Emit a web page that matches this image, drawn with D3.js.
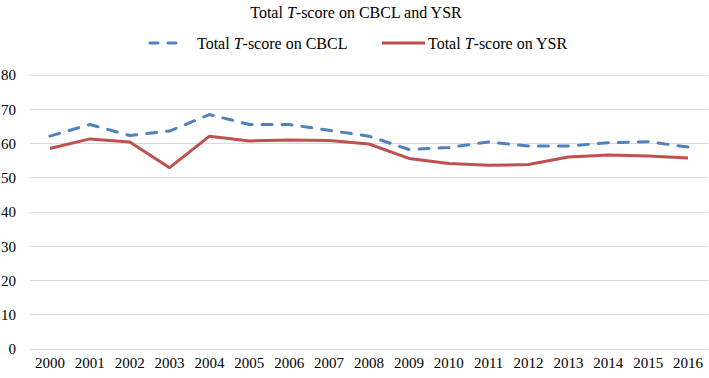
<!DOCTYPE html>
<html>
<head>
<meta charset="utf-8">
<script src="https://cdn.jsdelivr.net/npm/d3@7"></script>
<style>
  html, body { margin: 0; padding: 0; background: #fff; }
  svg { display: block; }
  svg text { font-family: "Liberation Serif", "Times New Roman", serif !important; fill: #000; }
</style>
</head>
<body>
<svg id="chart" width="709" height="378"></svg>
<script>
const years = ["2000","2001","2002","2003","2004","2005","2006","2007","2008","2009","2010","2011","2012","2013","2014","2015","2016"];
const cbcl = [62.0, 65.4, 62.2, 63.5, 68.3, 65.4, 65.4, 63.7, 62.0, 58.1, 58.7, 60.3, 59.1, 59.1, 60.1, 60.4, 58.8];
const ysr  = [58.4, 61.2, 60.3, 52.8, 62.0, 60.6, 60.9, 60.7, 59.7, 55.5, 54.0, 53.5, 53.7, 55.9, 56.5, 56.2, 55.6];
const yTicks = [0, 10, 20, 30, 40, 50, 60, 70, 80];
const seriesNames = ["Total T-score on CBCL", "Total T-score on YSR"];

const FONT = "'Liberation Serif', 'Times New Roman', serif";
const svg = d3.select("#chart");
const x = d3.scaleBand().domain(years).range([30, 708]).padding(0);
const y = d3.scaleLinear().domain([0, 80]).range([348.5, 74.5]);
const cx = d => x(d) + x.bandwidth() / 2;

// gridlines
svg.append("g").selectAll("line").data(yTicks).join("line")
  .attr("x1", 30).attr("x2", 708)
  .attr("y1", d => Math.round(y(d)) + 0.5).attr("y2", d => Math.round(y(d)) + 0.5)
  .attr("stroke", "#d9d9d9").attr("stroke-width", 1);

// y axis labels
const yAxis = d3.axisLeft(y).tickValues(yTicks).tickSize(0).tickPadding(0);
const gy = svg.append("g").attr("transform", "translate(16,0)").call(yAxis)
  .attr("font-family", FONT).attr("font-size", 15);
gy.select(".domain").remove();
gy.selectAll("text").style("font-family", FONT).style("font-size", "15px").attr("fill", "#000").attr("dy", "0.35em");

// x axis labels
const xAxis = d3.axisBottom(x).tickSize(0).tickPadding(0);
const gx = svg.append("g").attr("transform", "translate(0,363)").call(xAxis)
  .attr("font-family", FONT).attr("font-size", 15);
gx.select(".domain").remove();
gx.selectAll("text").style("font-family", FONT).style("font-size", "15px").attr("fill", "#000").attr("dy", "0.35em");

const line = d3.line().x((d, i) => cx(years[i])).y(d => y(d));

svg.append("path").datum(ysr).attr("d", line)
  .attr("fill", "none").attr("stroke", "#c0504d").attr("stroke-width", 3)
  .attr("stroke-linejoin", "round");

svg.append("path").datum(cbcl).attr("d", line)
  .attr("fill", "none").attr("stroke", "#4f81bd").attr("stroke-width", 3)
  .attr("stroke-dasharray", "10,10").attr("stroke-linecap", "round")
  .attr("stroke-linejoin", "round");

// title
const title = svg.append("text").attr("x", 356).attr("y", 12).attr("dy", "0.35em")
  .attr("text-anchor", "middle").style("font-size", "16px").style("font-family", FONT);
title.append("tspan").text("Total ");
title.append("tspan").attr("font-style", "italic").text("T");
title.append("tspan").text("-score on CBCL and YSR");

// legend
function legendText(xPos, label) {
  const t = svg.append("text").attr("x", xPos).attr("y", 43).attr("dy", "0.35em")
    .style("font-size", "16px").style("font-family", FONT);
  const parts = label.split("T-score");
  t.append("tspan").text(parts[0]);
  t.append("tspan").attr("font-style", "italic").text("T");
  t.append("tspan").text("-score" + parts[1]);
}
svg.append("line").attr("x1", 150).attr("x2", 185).attr("y1", 43).attr("y2", 43)
  .attr("stroke", "#4f81bd").attr("stroke-width", 3).attr("stroke-dasharray", "8,10").attr("stroke-linecap", "round");
legendText(197, seriesNames[0]);
svg.append("line").attr("x1", 382).attr("x2", 425).attr("y1", 43).attr("y2", 43)
  .attr("stroke", "#c0504d").attr("stroke-width", 3);
legendText(428, seriesNames[1]);
</script>
</body>
</html>
